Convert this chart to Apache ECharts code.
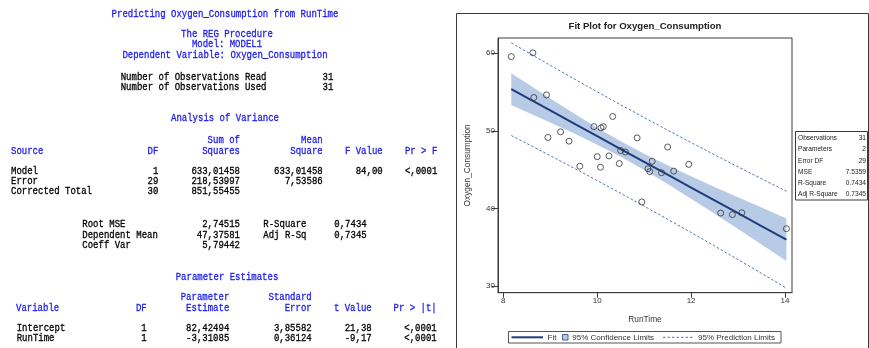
<!DOCTYPE html>
<html>
<head>
<meta charset="utf-8">
<title>REG Procedure – Oxygen_Consumption</title>
<script src="https://cdn.jsdelivr.net/npm/echarts@6/dist/echarts.min.js"></script>
<style>
  html, body { margin: 0; padding: 0; background: #fff; }
  #chart { width: 869px; height: 348px; }
</style>
</head>
<body>
<div id="chart"></div>
<script>
// ---- observations (fitness data) ----
const runTime = [11.37, 10.07, 8.65, 8.17, 9.22, 11.63, 11.95, 10.85, 13.08, 8.63, 10.13,
                 14.03, 11.12, 10.60, 10.33, 8.95, 10.95, 10.00, 10.25, 10.08, 12.63, 11.17,
                 9.63, 8.92, 11.08, 12.88, 10.47, 9.93, 9.40, 11.50, 10.50];
const oxygen = [44.609, 45.313, 54.297, 59.571, 49.874, 44.811, 45.681, 49.091, 39.442, 60.055, 50.541,
                37.388, 44.754, 47.273, 51.855, 49.156, 40.836, 46.672, 46.774, 50.388, 39.407, 46.080,
                45.441, 54.625, 45.118, 39.203, 45.790, 50.545, 48.673, 47.920, 47.467];

// ---- fitted line and 95% limits along RunTime ----
const bandX  = [8.17, 8.5, 9, 9.5, 10, 10.5, 11, 11.5, 12, 12.5, 13, 13.5, 14.03];
const fitY   = [55.375, 54.283, 52.627, 50.972, 49.316, 47.661, 46.006, 44.350, 42.695, 41.039, 39.384, 37.729, 35.974];
const clLow  = [53.325, 52.441, 51.081, 49.683, 48.219, 46.651, 44.952, 43.137, 41.243, 39.303, 37.335, 35.351, 33.237];
const clHigh = [57.426, 56.125, 54.173, 52.261, 50.414, 48.671, 47.059, 45.564, 44.147, 42.776, 41.433, 40.106, 38.711];
const plLow  = [49.398, 48.374, 46.804, 45.211, 43.596, 41.956, 40.293, 38.606, 36.896, 35.162, 33.407, 31.631, 29.728];
const plHigh = [61.352, 60.192, 58.451, 56.732, 55.037, 53.366, 51.718, 50.094, 48.494, 46.916, 45.361, 43.826, 42.220];

// ---- axis ticks ----
const xTicks = [8, 10, 12, 14];
const yTicks = [30, 40, 50, 60];

// ---- fit statistics inset ----
const statNames  = ['Observations', 'Parameters', 'Error DF', 'MSE', 'R-Square', 'Adj R-Square'];
const statValues = ['31', '2', '29', '7.5359', '0.7434', '0.7345'];

// ---- listing: analysis of variance ----
const anovaSource = ['Model', 'Error', 'Corrected Total'];
const anovaDF     = ['1', '29', '30'];
const anovaSS     = ['633,01458', '218,53997', '851,55455'];
const anovaMS     = ['633,01458', '7,53586', ''];
const anovaF      = ['84,00', '', ''];
const anovaP      = ['<,0001', '', ''];

// ---- listing: fit summary ----
const fitLabelsL = ['Root MSE', 'Dependent Mean', 'Coeff Var'];
const fitValuesL = ['2,74515', '47,37581', '5,79442'];
const fitLabelsR = ['R-Square', 'Adj R-Sq'];
const fitValuesR = ['0,7434', '0,7345'];

// ---- listing: parameter estimates ----
const paramNames = ['Intercept', 'RunTime'];
const paramDF    = ['1', '1'];
const paramEst   = ['82,42494', '-3,31085'];
const paramSE    = ['3,85582', '0,36124'];
const paramT     = ['21,38', '-9,17'];
const paramP     = ['<,0001', '<,0001'];

const nObsRead = '31';
const nObsUsed = '31';

// ---- colours ----
const fitColor  = '#1f3d7d';
const bandColor = '#b7cbe7';
const predColor = '#4f73b8';
const pointColor = '#333333';
const listBlue = '#1a1aee';
const frameColor = '#3a3a3a';

// ---- listing text, drawn as graphic elements ----
const mono = '"Liberation Mono", "DejaVu Sans Mono", monospace';
const sans = '"Liberation Sans", Arial, sans-serif';
const graphics = [];

function listText(s, x, y, align, color) {
  graphics.push({
    type: 'text', x: x, y: y, scaleY: 1.2, silent: true,
    style: { text: s, fill: color || '#000', fontFamily: mono, fontSize: 9,
             textAlign: align || 'left', textVerticalAlign: 'middle',
             stroke: color || '#000', lineWidth: 0.25 }
  });
}

const midX = 225;
listText('Predicting Oxygen_Consumption from RunTime', midX, 14, 'center', listBlue);
listText('The REG Procedure', midX + 2, 34.3, 'center', listBlue);
listText('Model: MODEL1', midX + 2, 44.5, 'center', listBlue);
listText('Dependent Variable: Oxygen_Consumption', midX, 55, 'center', listBlue);

listText('Number of Observations Read', 120.7, 77);
listText(nObsRead, 333.3, 77, 'right');
listText('Number of Observations Used', 120.7, 87.3);
listText(nObsUsed, 333.3, 87.3, 'right');

listText('Analysis of Variance', midX, 118.3, 'center', listBlue);
listText('Sum of', 240, 140, 'right', listBlue);
listText('Mean', 322.7, 140, 'right', listBlue);
listText('Source', 11, 150.7, 'left', listBlue);
listText('DF', 158.3, 150.7, 'right', listBlue);
listText('Squares', 240, 150.7, 'right', listBlue);
listText('Square', 322.7, 150.7, 'right', listBlue);
listText('F Value', 382.7, 150.7, 'right', listBlue);
listText('Pr > F', 437.3, 150.7, 'right', listBlue);

const anovaY = [171, 181.2, 191.3];
anovaSource.forEach(function (s, i) {
  const y = anovaY[i];
  listText(s, 11, y);
  listText(anovaDF[i], 158.3, y, 'right');
  listText(anovaSS[i], 240, y, 'right');
  if (anovaMS[i]) listText(anovaMS[i], 322.7, y, 'right');
  if (anovaF[i]) listText(anovaF[i], 382.7, y, 'right');
  if (anovaP[i]) listText(anovaP[i], 437.3, y, 'right');
});

const fitY0 = [224, 234.7, 245];
fitLabelsL.forEach(function (s, i) {
  listText(s, 82.3, fitY0[i]);
  listText(fitValuesL[i], 240, fitY0[i], 'right');
});
fitLabelsR.forEach(function (s, i) {
  listText(s, 263.3, fitY0[i]);
  listText(fitValuesR[i], 334.3, fitY0[i]);
});

listText('Parameter Estimates', midX + 2, 276.7, 'center', listBlue);
listText('Parameter', 229.3, 297.3, 'right', listBlue);
listText('Standard', 311.7, 297.3, 'right', listBlue);
listText('Variable', 16, 307.7, 'left', listBlue);
listText('DF', 146.7, 307.7, 'right', listBlue);
listText('Estimate', 229.3, 307.7, 'right', listBlue);
listText('Error', 311.7, 307.7, 'right', listBlue);
listText('t Value', 371.7, 307.7, 'right', listBlue);
listText('Pr > |t|', 436.7, 307.7, 'right', listBlue);

const paramY = [328.3, 338.3];
paramNames.forEach(function (s, i) {
  const y = paramY[i];
  listText(s, 16.7, y);
  listText(paramDF[i], 146.7, y, 'right');
  listText(paramEst[i], 229.3, y, 'right');
  listText(paramSE[i], 311.7, y, 'right');
  listText(paramT[i], 371.7, y, 'right');
  listText(paramP[i], 436.7, y, 'right');
});

// ---- fit plot panel frame and title ----
graphics.push({
  type: 'polyline', silent: true,
  shape: { points: [[456.5, 352], [456.5, 13.5], [868.5, 13.5], [868.5, 352]] },
  style: { stroke: frameColor, lineWidth: 1, fill: null }
});
graphics.push({
  type: 'text', x: 645, y: 26.7, silent: true,
  style: { text: 'Fit Plot for Oxygen_Consumption', fill: '#222', fontFamily: sans,
           fontSize: 9.6, fontWeight: 'bold', textAlign: 'center', textVerticalAlign: 'middle' }
});

// ---- statistics inset ----
graphics.push({
  type: 'rect', silent: true,
  shape: { x: 795.5, y: 131.5, width: 72, height: 68.5 },
  style: { fill: '#fff', stroke: frameColor, lineWidth: 1 }
});
const statY = [138.3, 149.5, 160.7, 171.8, 183, 194.2];
statNames.forEach(function (s, i) {
  graphics.push({
    type: 'text', x: 798, y: statY[i], silent: true,
    style: { text: s, fill: '#222', fontFamily: sans, fontSize: 6.6, textVerticalAlign: 'middle' }
  });
  graphics.push({
    type: 'text', x: 866, y: statY[i], silent: true,
    style: { text: statValues[i], fill: '#222', fontFamily: sans, fontSize: 6.6,
             textAlign: 'right', textVerticalAlign: 'middle' }
  });
});

// ---- legend ----
const legY = 337.3;
graphics.push({
  type: 'rect', silent: true,
  shape: { x: 508.5, y: 331.5, width: 272.5, height: 11.5 },
  style: { fill: '#fff', stroke: '#555', lineWidth: 1 }
});
graphics.push({
  type: 'line', silent: true,
  shape: { x1: 511.5, y1: legY, x2: 543, y2: legY },
  style: { stroke: fitColor, lineWidth: 2 }
});
graphics.push({
  type: 'text', x: 547.5, y: legY, silent: true,
  style: { text: 'Fit', fill: '#333', fontFamily: sans, fontSize: 8, textVerticalAlign: 'middle' }
});
graphics.push({
  type: 'rect', silent: true,
  shape: { x: 562.5, y: 334.5, width: 5.5, height: 5.5 },
  style: { fill: bandColor, stroke: '#44608f', lineWidth: 1 }
});
graphics.push({
  type: 'text', x: 572.3, y: legY, silent: true,
  style: { text: '95% Confidence Limits', fill: '#333', fontFamily: sans, fontSize: 8, textVerticalAlign: 'middle' }
});
graphics.push({
  type: 'line', silent: true,
  shape: { x1: 663, y1: legY, x2: 693, y2: legY },
  style: { stroke: predColor, lineWidth: 1, lineDash: [2.5, 2] }
});
graphics.push({
  type: 'text', x: 698, y: legY, silent: true,
  style: { text: '95% Prediction Limits', fill: '#333', fontFamily: sans, fontSize: 8, textVerticalAlign: 'middle' }
});

// ---- series data built from the arrays ----
const pts = runTime.map(function (x, i) { return [x, oxygen[i]]; });
const pair = function (ys) { return bandX.map(function (x, i) { return [x, ys[i]]; }); };

const chart = echarts.init(document.getElementById('chart'), null, { renderer: 'canvas' });

const axisCommon = {
  type: 'value',
  axisLine: { show: true, lineStyle: { color: frameColor, width: 1 } },
  splitLine: { show: false },
  nameLocation: 'middle',
  nameTextStyle: { color: '#333', fontFamily: sans, fontSize: 8.3 }
};

chart.setOption({
  animation: false,
  backgroundColor: '#fff',
  grid: {
    left: 498, top: 38, width: 294, height: 254.7,
    show: true, borderColor: frameColor, borderWidth: 1, backgroundColor: '#fff',
    containLabel: false
  },
  xAxis: Object.assign({}, axisCommon, {
    min: 7.887, max: 14.149,
    name: 'RunTime', nameGap: 23,
    axisTick: { show: true, length: 5, lineStyle: { color: frameColor }, customValues: xTicks },
    axisLabel: { customValues: xTicks, color: '#333', fontFamily: sans, fontSize: 8, margin: 4 }
  }),
  yAxis: Object.assign({}, axisCommon, {
    min: 29.14, max: 61.97,
    name: 'Oxygen_Consumption', nameGap: 26,
    axisTick: { show: true, length: 6, lineStyle: { color: frameColor }, customValues: yTicks },
    axisLabel: { customValues: yTicks, color: '#333', fontFamily: sans, fontSize: 8, margin: 3 }
  }),
  graphic: graphics,
  series: [
    {
      // 95% confidence band as a filled polygon
      type: 'custom', name: '95% Confidence Limits', silent: true, z: 1,
      data: [[bandX[0], clLow[0]]],
      renderItem: function (params, api) {
        const poly = [];
        for (let i = 0; i < bandX.length; i++) poly.push(api.coord([bandX[i], clHigh[i]]));
        for (let i = bandX.length - 1; i >= 0; i--) poly.push(api.coord([bandX[i], clLow[i]]));
        return { type: 'polygon', shape: { points: poly }, style: { fill: bandColor } };
      }
    },
    {
      type: 'line', name: '95% Prediction Limits', data: pair(plHigh), silent: true, z: 3,
      showSymbol: false,
      lineStyle: { color: predColor, width: 1, type: [2.5, 2] }
    },
    {
      type: 'line', name: '95% Prediction Limits', data: pair(plLow), silent: true, z: 3,
      showSymbol: false,
      lineStyle: { color: predColor, width: 1, type: [2.5, 2] }
    },
    {
      type: 'line', name: 'Fit', data: pair(fitY), silent: true, z: 4,
      showSymbol: false,
      lineStyle: { color: fitColor, width: 2 }
    },
    {
      type: 'scatter', name: 'Oxygen_Consumption', data: pts, silent: true, z: 5,
      symbol: 'circle', symbolSize: 6,
      itemStyle: { color: 'rgba(0,0,0,0)', borderColor: pointColor, borderWidth: 1 }
    }
  ]
});
</script>
</body>
</html>
